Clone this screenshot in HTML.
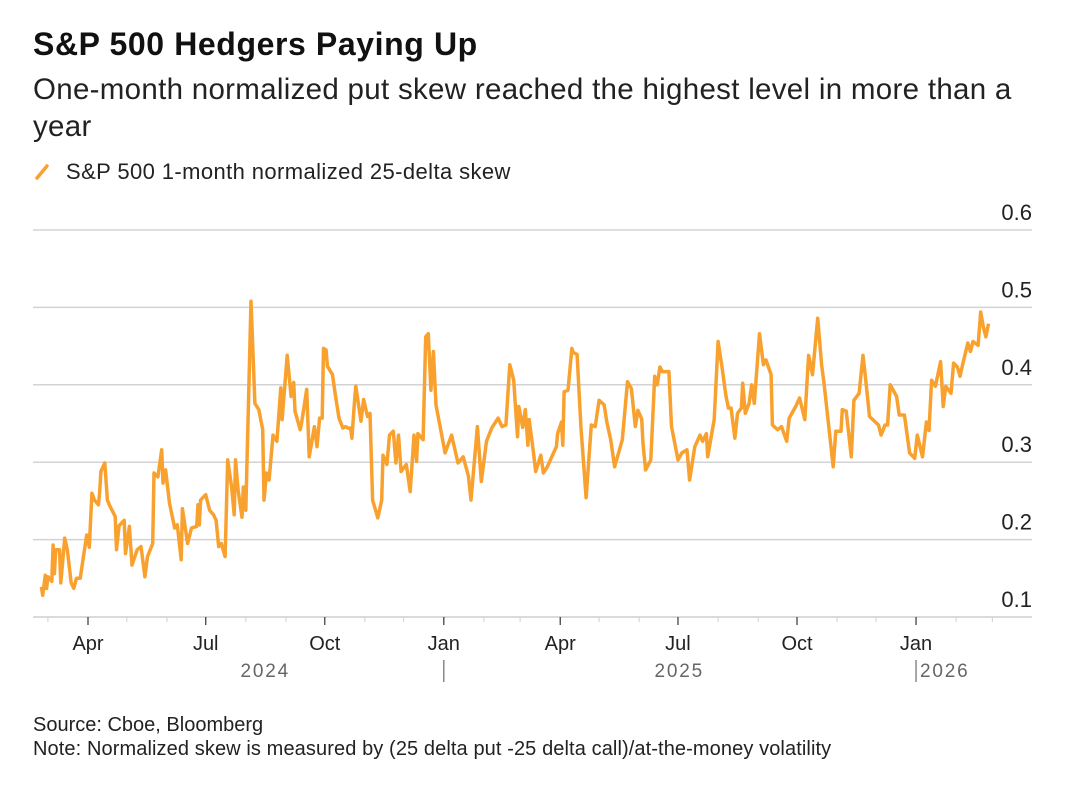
<!DOCTYPE html>
<html><head><meta charset="utf-8">
<style>
body{margin:0;background:#fff;font-family:"Liberation Sans",sans-serif;color:#111;}
#wrap{position:relative;width:1080px;height:787px;overflow:hidden;}
.t{position:absolute;white-space:nowrap;}
</style></head>
<body>
<div id="wrap">
<div class="t" style="left:33px;top:26px;font-size:32px;font-weight:bold;letter-spacing:0.6px;">S&amp;P 500 Hedgers Paying Up</div>
<div class="t" style="left:33px;top:71px;font-size:29.5px;line-height:37px;color:#222;white-space:normal;width:1010px;letter-spacing:0.3px;">One-month normalized put skew reached the highest level in more than a year</div>
<div style="position:absolute;left:33px;top:158px;height:26px;">
<svg width="22" height="26" style="position:absolute;left:0;top:0"><line x1="4" y1="20" x2="14" y2="8" stroke="#f9a12e" stroke-width="3.5" stroke-linecap="round"/></svg>
<span class="t" style="left:33px;top:1px;font-size:22px;letter-spacing:0.4px;color:#222;">S&amp;P 500 1-month normalized 25-delta skew</span>
</div>
<svg id="chart" width="1080" height="787" style="position:absolute;left:0;top:0"></svg>
<div class="t" style="left:33px;top:714px;font-size:20px;color:#222;">Source: Cboe, Bloomberg</div>
<div class="t" style="left:33px;top:738px;font-size:20px;color:#222;letter-spacing:0.1px;">Note: Normalized skew is measured by (25 delta put -25 delta call)/at-the-money volatility</div>
</div>
<script>
// day offsets since 2024-01-01
const days=[55,56,58,59,60,63,64,65,66,69,70,73,75,78,80,82,85,90,92,94,96,99,100,101,104,106,108,112,113,115,119,120,123,125,129,132,135,137,141,142,145,148,149,151,154,158,160,163,164,168,171,175,176,177,178,182,185,188,190,192,194,197,199,202,204,205,207,210,211,213,217,220,223,226,227,229,231,234,237,240,241,245,248,250,251,255,256,260,262,266,268,270,272,273,275,276,280,282,285,288,290,292,294,295,297,298,302,304,307,309,311,315,318,319,322,324,327,329,331,333,337,340,343,345,346,350,352,354,356,358,360,367,372,377,381,385,387,392,395,399,403,408,411,414,417,420,423,424,427,429,431,432,435,437,441,443,446,450,453,454,457,458,459,462,465,466,469,472,476,480,483,486,490,492,495,498,504,508,511,514,516,519,520,522,526,529,531,533,535,540,542,547,550,554,556,560,564,566,569,570,575,578,581,584,586,588,591,593,596,597,599,602,604,606,610,613,615,619,620,624,627,631,633,638,641,645,648,651,655,658,660,667,669,673,674,677,681,683,687,690,692,695,702,704,707,709,711,716,718,722,726,730,732,736,739,741,743,746,750,752,754,758,760,763,765,767,771,773,775,779,781,783,785,787];
const values=[.139,.128,.154,.137,.152,.146,.193,.156,.187,.187,.144,.202,.187,.144,.137,.150,.150,.206,.190,.260,.251,.245,.260,.288,.299,.251,.243,.230,.187,.218,.225,.182,.217,.167,.187,.191,.152,.178,.195,.286,.281,.316,.273,.290,.247,.215,.219,.174,.240,.195,.215,.217,.245,.219,.251,.258,.238,.232,.225,.191,.195,.178,.303,.268,.232,.303,.264,.229,.268,.238,.508,.376,.368,.342,.251,.286,.277,.335,.327,.396,.355,.438,.385,.403,.366,.342,.350,.394,.307,.346,.320,.357,.357,.447,.445,.424,.413,.389,.357,.344,.346,.344,.344,.331,.378,.398,.353,.381,.359,.363,.251,.228,.251,.309,.297,.335,.340,.299,.335,.288,.297,.262,.335,.301,.337,.329,.462,.466,.393,.443,.374,.312,.335,.299,.307,.282,.251,.346,.275,.327,.344,.357,.346,.348,.426,.406,.333,.372,.345,.368,.322,.355,.316,.288,.309,.286,.294,.309,.320,.337,.352,.322,.391,.393,.447,.442,.439,.346,.254,.348,.346,.380,.374,.352,.329,.294,.329,.404,.395,.346,.367,.356,.324,.290,.303,.411,.400,.423,.417,.417,.346,.303,.312,.316,.277,.320,.335,.327,.337,.307,.355,.456,.423,.387,.370,.370,.331,.363,.370,.402,.363,.376,.400,.376,.466,.426,.432,.413,.348,.342,.346,.327,.357,.372,.383,.355,.438,.413,.486,.426,.400,.294,.340,.340,.368,.366,.307,.380,.389,.438,.408,.359,.348,.335,.348,.348,.400,.385,.361,.361,.312,.305,.335,.307,.352,.341,.406,.398,.430,.372,.398,.389,.428,.423,.411,.426,.454,.443,.456,.451,.494,.475,.462,.479];
const yTicks=[0.1,0.2,0.3,0.4,0.5,0.6];
const xTickLabels=["Apr","Jul","Oct","Jan","Apr","Jul","Oct","Jan"];
const xTickDays=[91,182,274,366,456,547,639,731];
const yearLabels=["2024","2025","2026"];

const NS="http://www.w3.org/2000/svg";
const svg=document.getElementById('chart');
function xS(d){return 88+(d-91)*1.2938;}
function yS(v){return 617-(v-0.1)*774;}
function mk(tag,attrs,parent){const e=document.createElementNS(NS,tag);for(const k in attrs)e.setAttribute(k,attrs[k]);(parent||svg).appendChild(e);return e;}

yTicks.forEach(v=>{
  if(v>0.1){
    const g=mk('line',{x1:33,x2:1032,y1:yS(v),y2:yS(v),stroke:'#d3d3d3','stroke-width':1.5});
    
    
  }
  const t=mk('text',{x:1032,y:yS(v)-10,'text-anchor':'end','font-size':22,fill:'#222','font-family':'Liberation Sans, sans-serif'});
  t.textContent=v.toFixed(1);
  
  
});
const ax=mk('line',{x1:33,x2:1032,y1:617,y2:617,stroke:'#cfcfcf','stroke-width':1.5});


const monthDays=[60,91,121,152,182,213,244,274,305,335,366,397,425,456,486,517,547,578,609,639,670,700,731,762,790];
monthDays.forEach(d=>{
  const m=mk('line',{x1:xS(d),x2:xS(d),y1:617,y2:622,stroke:'#cfcfcf','stroke-width':1});
  
  
});
xTickDays.forEach((d,i)=>{
  const tk=mk('line',{x1:xS(d),x2:xS(d),y1:617,y2:625,stroke:'#444','stroke-width':1.3});
  
  
  const t=mk('text',{x:xS(d),y:650,'text-anchor':'middle','font-size':20,fill:'#222','font-family':'Liberation Sans, sans-serif'});
  t.textContent=xTickLabels[i];
  
  
});
const yrX=[xS(228),xS(548),xS(731)];
yearLabels.forEach((y,i)=>{
  const t=mk('text',{x:yrX[i],y:677,'text-anchor':i===2?'start':'middle','font-size':19,fill:'#666','letter-spacing':'1.8','font-family':'Liberation Sans, sans-serif'});
  t.textContent=y;
  if(i===2)t.setAttribute('x',xS(731)+4);
  
  
});
[366,731].forEach(d=>{
  const s=mk('line',{x1:xS(d),x2:xS(d),y1:660,y2:682,stroke:'#777','stroke-width':1.3});
  
  
});
let dStr='';
days.forEach((d,i)=>{dStr+=(i?'L':'M')+xS(d).toFixed(1)+','+yS(values[i]).toFixed(1);});
const p=mk('path',{d:dStr,fill:'none',stroke:'#f9a12e','stroke-width':3.5,'stroke-linejoin':'round'});


</script>
</body></html>
